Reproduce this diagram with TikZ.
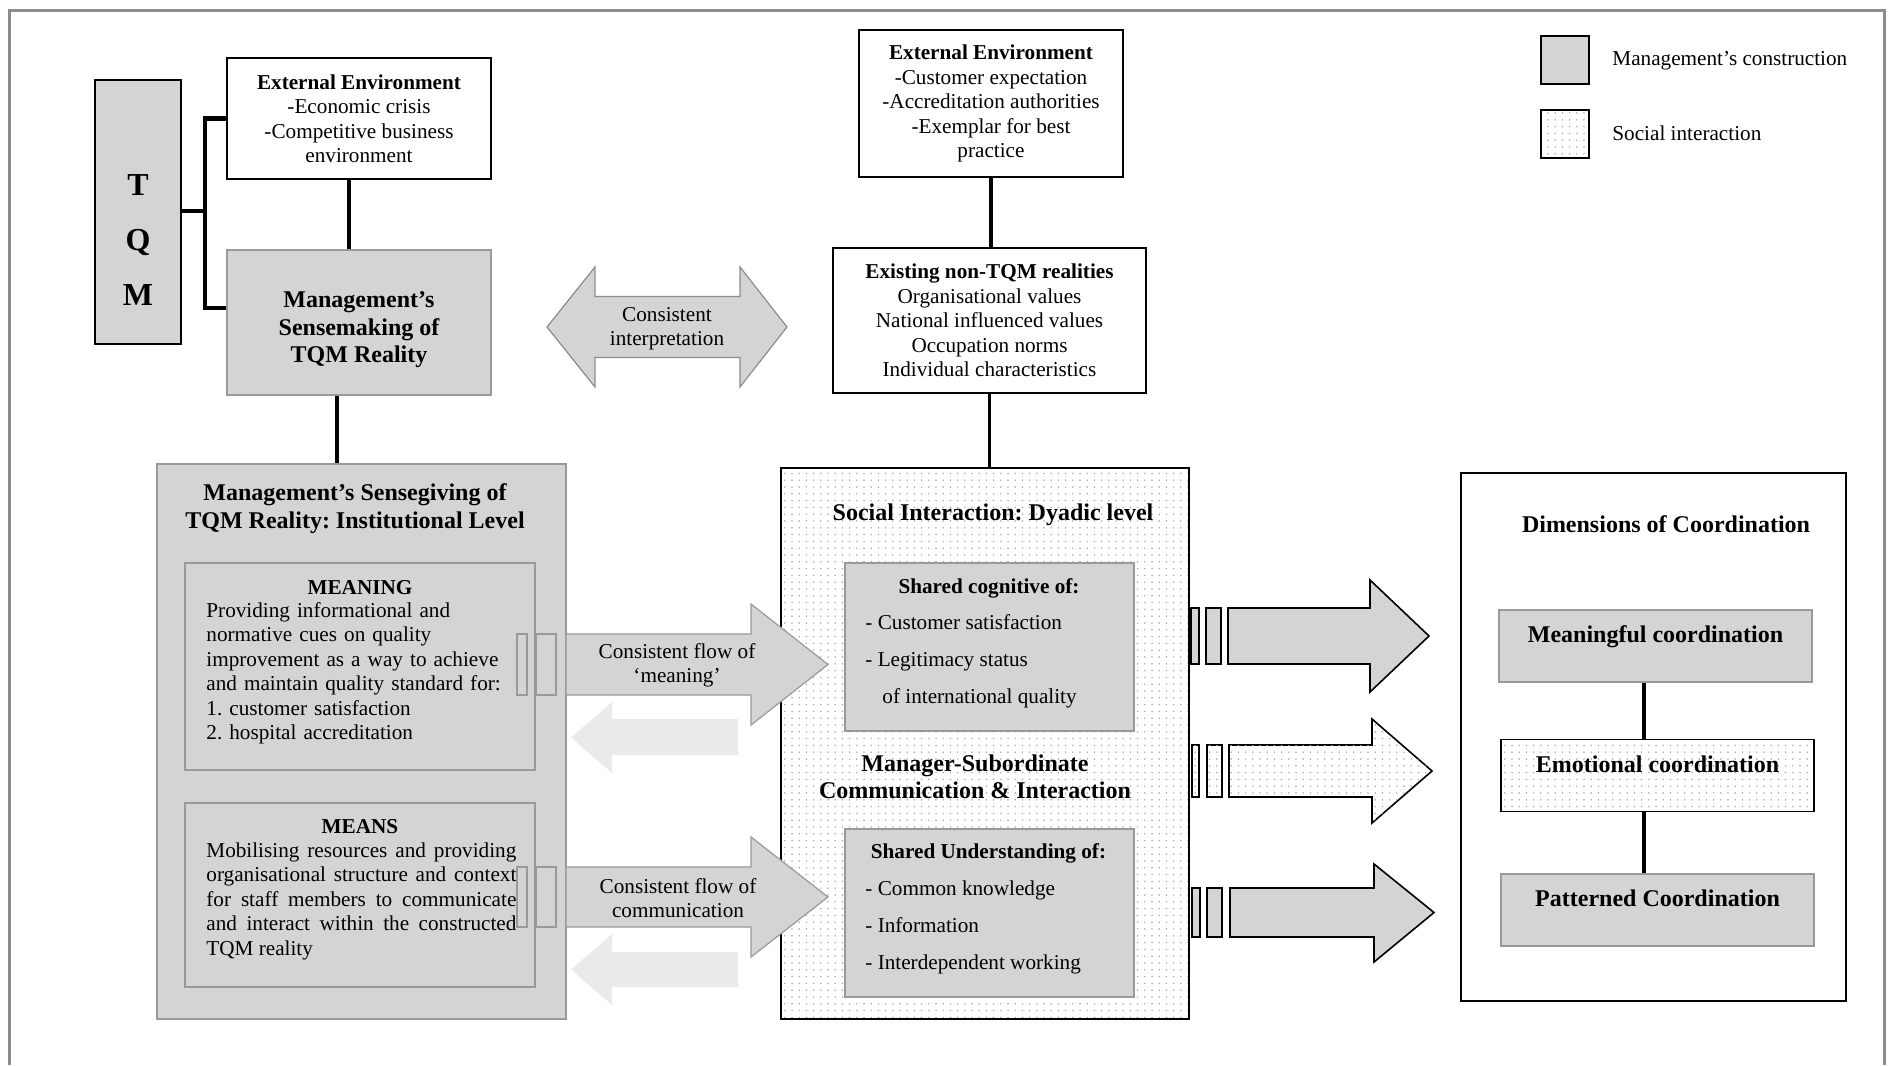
\documentclass[tikz,border=0pt]{standalone}
\usepackage{fontspec}
\setmainfont{Liberation Serif}
\frenchspacing
\usetikzlibrary{patterns.meta}
\definecolor{tqfill}{HTML}{D4D4D4}
\definecolor{tqedge}{HTML}{999999}
\definecolor{tqframe}{HTML}{8C8C8C}
\definecolor{tqpale}{HTML}{EAEAEA}
\definecolor{tqdotcol}{HTML}{A8A8A8}
\tikzdeclarepattern{
  name=tqdots,
  type=uncolored,
  bounding box={(-0.5pt,-0.5pt) and (0.5pt,0.5pt)},
  tile size={(3.6pt,3.4pt)},
  code={\pgfpathcircle{\pgfpointorigin}{0.42pt}\pgfusepath{fill}}
}
\tikzset{
  tqtxt/.style={
    inner sep=0pt,
    align=center,
    font=\fontsize{10.6}{12.25}\selectfont
  },
  tqhead/.style={
    tqtxt,
    font=\fontsize{12}{13.8}\selectfont\bfseries
  },
  tqsub/.style={
    tqtxt,
    font=\fontsize{10.6}{12.25}\selectfont\bfseries
  },
  tqpara/.style={
    tqtxt,
    align=left,
    text width=155pt
  },
  tqlist/.style={
    tqtxt,
    align=left,
    font=\fontsize{10.6}{18.5}\selectfont
  },
  tqbox/.style={
    tqtxt,
    draw=black,
    line width=0.9pt,
    fill=white
  },
  tqmgmt/.style={
    tqbox,
    draw=tqedge,
    fill=tqfill,
    line width=1.4pt
  },
  tqinner/.style={
    tqmgmt,
    line width=1pt
  },
  tqdotted/.style={
    tqbox,
    preaction={fill=white},
    pattern={tqdots},
    pattern color=tqdotcol
  },
  tqdim/.style={
    tqhead,
    text height=9pt,
    text depth=12.5pt,
    minimum width=156.5pt,
    minimum height=36pt
  },
  tqletters/.style={
    tqtxt,
    font=\fontsize{16}{27.5}\selectfont\bfseries
  },
  tqborder/.style={
    draw=tqframe,
    line width=1.5pt
  },
  tqlink/.style={
    draw=black,
    line width=1.6pt
  },
  tqbracket/.style={
    draw=black,
    line width=2.2pt
  },
  tqflow/.style={
    draw=tqedge,
    fill=tqfill,
    line width=0.6pt
  },
  tqback/.style={
    fill=tqpale
  },
  tqout/.style={
    draw=black,
    fill=tqfill,
    line width=0.8pt
  },
  tqoutdots/.style={
    tqout,
    fill=white,
    postaction={pattern={tqdots}, pattern color=tqdotcol}
  }
}
\begin{document}
\begin{tikzpicture}[x=0.5pt,y=-0.5pt]
  \useasboundingbox (0,0) rectangle (1888,1065);
  \draw[tqborder] (9.5,1065) -- (9.5,10.5) -- (1884,10.5) -- (1884,1065);

  % legend
  \node[tqmgmt, draw=black, line width=0.9pt, minimum size=24pt] (keymgmt) at (1565,60) {};
  \node[tqtxt, anchor=west] (keymgmttxt) at (1612,61) {Management's construction};
  \node[tqdotted, minimum size=24pt] (keysocial) at (1565,134) {};
  \node[tqtxt, anchor=west] (keysocialtxt) at (1612,133) {Social interaction};

  % TQM and management's sensemaking
  \node[tqmgmt, draw=black, line width=0.9pt, minimum width=43pt, minimum height=132pt] (tqm) at (138,212) {};
  \node[tqletters] (tqmtxt) at (138,240) {T\\Q\\M};

  \node[tqbox, minimum width=132pt, minimum height=60.5pt] (envA) at (359,118.5) {%
    \textbf{External Environment}\\
    -Economic crisis\\
    -Competitive business\\
    environment};

  \node[tqmgmt, minimum width=132pt, minimum height=72.5pt] (sensemaking) at (359,322.5) {};
  \node[tqhead] (sensemakingtxt) at (359,330) {Management's\\Sensemaking of\\TQM Reality};

  \coordinate (brk) at (205,211);
  \draw[tqbracket] (tqm.east |- brk) -- (brk);
  \draw[tqbracket] (envA.west) -| (brk) |- ([yshift=7.25pt]sensemaking.west);
  \draw[tqlink] ([xshift=-5pt]envA.south) -- ([xshift=-5pt]envA.south |- sensemaking.north);

  % consistent interpretation
  \draw[tqflow, draw=tqframe] (547,327) -- (595,267) -- (595,296.5) -- (740,296.5) -- (740,267) -- (787,327)
    -- (740,387) -- (740,357.5) -- (595,357.5) -- (595,387) -- cycle;
  \node[tqtxt] (interp) at (667,328.5) {Consistent\\interpretation};

  % external environment and non-TQM realities
  \node[tqbox, minimum width=132pt, minimum height=73.5pt] (envB) at (991,103.5) {%
    \textbf{External Environment}\\
    -Customer expectation\\
    -Accreditation authorities\\
    -Exemplar for best\\
    practice};

  \node[tqbox, minimum width=156.5pt, minimum height=72.5pt] (existing) at (989.5,320.5) {%
    \textbf{Existing non-TQM realities}\\
    Organisational values\\
    National influenced values\\
    Occupation norms\\
    Individual characteristics};

  \draw[tqlink] (envB.south) -- (envB.south |- existing.north);

  % sensegiving
  \node[tqmgmt, minimum width=204.5pt, minimum height=277.5pt] (sensegiving) at (361.5,741.5) {};
  \node[tqhead] (sensegivingtxt) at (355,508.5) {Management's Sensegiving of\\TQM Reality: Institutional Level};
  \draw[tqlink] ([xshift=-11pt]sensemaking.south) -- ([xshift=-11pt]sensemaking.south |- sensegiving.north);

  \node[tqinner, minimum width=175pt, minimum height=103.5pt] (meaning) at (360,666.5) {};
  \node[tqsub] (meaningtitle) at (360,588) {MEANING};
  \node[tqpara, anchor=west] (meaningtxt) at (206,673.5) {%
    Providing informational and\\
    normative cues on quality\\
    improvement as a way to achieve\\
    and maintain quality standard for:\\
    1. customer satisfaction\\
    2. hospital accreditation};

  \node[tqinner, minimum width=175pt, minimum height=92pt] (means) at (360,895) {};
  \node[tqsub] (meanstitle) at (360,827) {MEANS};
  \node[tqpara, align=justify, anchor=west] (meanstxt) at (206,901) {%
    Mobilising resources and providing\linebreak
    organisational structure and context\linebreak
    for staff members to communicate\linebreak
    and interact within the constructed\linebreak
    TQM reality};

  % social interaction
  \node[tqdotted, minimum width=204pt, minimum height=275.5pt] (social) at (985,743.5) {};
  \draw[tqlink] (existing.south) -- (existing.south |- social.north);
  \node[tqhead] (socialtxt) at (993,515) {Social Interaction: Dyadic level};

  \node[tqinner, minimum width=144.5pt, minimum height=84pt] (cognitive) at (989.5,647) {};
  \node[tqsub] (cognitivetitle) at (989,588) {Shared cognitive of:};
  \node[tqlist, anchor=west] (cognitivetxt) at (865,661) {%
    - Customer satisfaction\\
    - Legitimacy status\\
    \hspace*{8.5pt}of international quality};

  \node[tqhead] (managertxt) at (975,777) {Manager-Subordinate\\Communication \& Interaction};

  \node[tqinner, minimum width=144.5pt, minimum height=84pt] (understanding) at (989.5,913) {};
  \node[tqsub] (understandingtitle) at (988.5,853) {Shared Understanding of:};
  \node[tqlist, anchor=west] (understandingtxt) at (865,927) {%
    - Common knowledge\\
    - Information\\
    - Interdependent working};

  % flow of meaning
  \draw[tqflow] (517,634) rectangle (527,695);
  \draw[tqflow] (536,634) rectangle (556,695);
  \draw[tqflow] (566,634) -- (751,634) -- (751,604) -- (828,664.5) -- (751,725) -- (751,695) -- (566,695) -- cycle;
  \node[tqtxt] (flowmeaning) at (677,665.5) {Consistent flow of\\`meaning'};
  \fill[tqback] (571,737.5) -- (612,702) -- (612,719) -- (738,719) -- (738,755) -- (612,755) -- (612,773) -- cycle;

  % flow of communication
  \draw[tqflow] (517,867) rectangle (527,927);
  \draw[tqflow] (536,867) rectangle (556,927);
  \draw[tqflow] (566,867) -- (751,867) -- (751,837) -- (828,897) -- (751,957) -- (751,927) -- (566,927) -- cycle;
  \node[tqtxt] (flowcomm) at (678,898) {Consistent flow of\\communication};
  \fill[tqback] (571,969.5) -- (612,934) -- (612,952) -- (738,952) -- (738,987) -- (612,987) -- (612,1005) -- cycle;

  % arrows to the dimensions
  \draw[tqout] (1191,608) rectangle (1199,664);
  \draw[tqout] (1206,608) rectangle (1221,664);
  \draw[tqout] (1228,608) -- (1370,608) -- (1370,580) -- (1429,636) -- (1370,692) -- (1370,664) -- (1228,664) -- cycle;

  \draw[tqoutdots] (1192,745) rectangle (1199,797);
  \draw[tqoutdots] (1207,745) rectangle (1222,797);
  \draw[tqoutdots] (1229,745) -- (1372,745) -- (1372,719) -- (1432,771) -- (1372,823) -- (1372,797) -- (1229,797) -- cycle;

  \draw[tqout] (1192,888) rectangle (1200,937);
  \draw[tqout] (1207,888) rectangle (1222,937);
  \draw[tqout] (1230,888) -- (1374,888) -- (1374,864) -- (1434,912.5) -- (1374,962) -- (1374,937) -- (1230,937) -- cycle;

  % dimensions of coordination
  \node[tqbox, minimum width=192.5pt, minimum height=264pt] (dimensions) at (1653.5,737) {};
  \node[tqhead] (dimensionstxt) at (1666,524) {Dimensions of Coordination};
  \node[tqmgmt, tqdim, line width=1pt] (meaningful) at (1655.5,645.5) {Meaningful coordination};
  \node[tqdotted, tqdim] (emotional) at (1657.5,775.5) {Emotional coordination};
  \node[tqmgmt, tqdim, line width=1pt] (patterned) at (1657.5,910) {Patterned Coordination};
  \draw[tqlink, line width=2pt] ([xshift=-5.75pt]meaningful.south) -- ([xshift=-5.75pt]meaningful.south |- emotional.north);
  \draw[tqlink, line width=2pt] ([xshift=-6.75pt]emotional.south) -- ([xshift=-6.75pt]emotional.south |- patterned.north);
\end{tikzpicture}
\end{document}
